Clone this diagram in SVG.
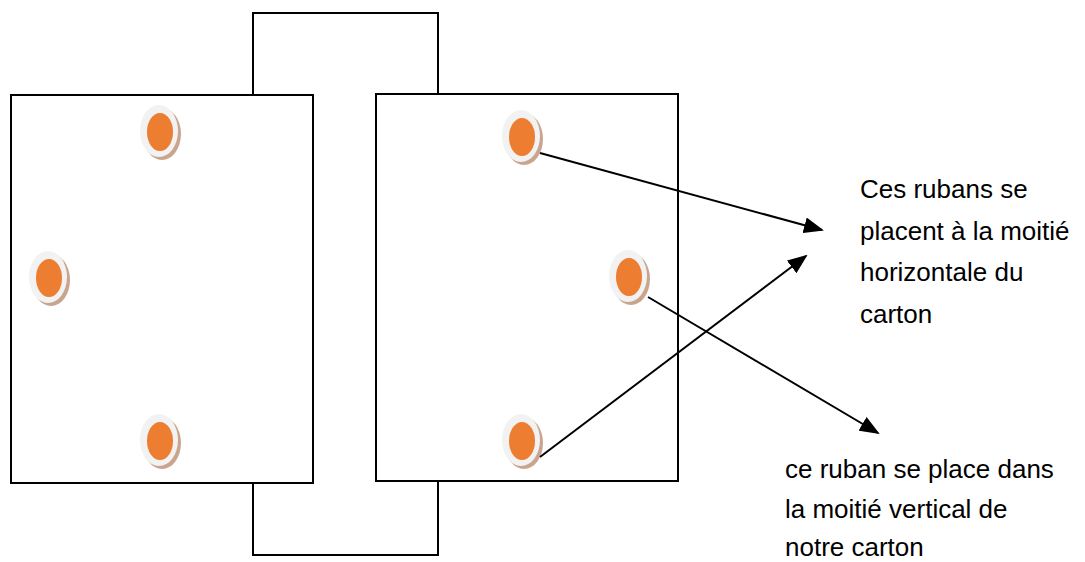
<svg xmlns="http://www.w3.org/2000/svg" width="1085" height="562" viewBox="0 0 1085 562">
<style>
.box{fill:none;stroke:#000;stroke-width:2}
.sh{fill:#c9a58d}
.wh{fill:#f2f2f2}
.or{fill:#ed7d31}
.con{stroke:#000;stroke-width:2;fill:none}
.lbl{font-family:"Liberation Sans",Arial,sans-serif;font-size:26px;fill:#000}
</style>
<defs>
<marker id="ah" markerWidth="10" markerHeight="8" refX="9" refY="4" orient="auto" markerUnits="strokeWidth">
<path d="M0,0 L10,4 L0,8 z" fill="#000"/>
</marker>
<g id="dot">
<ellipse cx="3" cy="3" rx="19" ry="26" class="sh"/>
<ellipse cx="0" cy="0" rx="19" ry="26" class="wh"/>
<ellipse cx="1" cy="1" rx="13" ry="19" class="or"/>
</g>
</defs>
<g id="left-carton">
<rect x="11" y="95" width="302" height="388" class="box"/>
</g>
<g id="right-carton">
<rect x="376" y="94" width="302" height="387" class="box"/>
</g>
<g id="top-ribbon">
<polyline points="253,95 253,13 438,13 438,94" class="box"/>
</g>
<g id="bottom-ribbon">
<polyline points="253,483 253,555 438,555 438,481" class="box"/>
</g>
<g id="dots">
<use href="#dot" x="159" y="131"/>
<use href="#dot" x="48" y="277"/>
<use href="#dot" x="159" y="440"/>
<use href="#dot" x="521" y="136"/>
<use href="#dot" x="628" y="276"/>
<use href="#dot" x="521" y="440"/>
</g>
<g id="connectors">
<line x1="540" y1="153" x2="822" y2="230" class="con" marker-end="url(#ah)"/>
<line x1="540" y1="457" x2="806" y2="256" class="con" marker-end="url(#ah)"/>
<line x1="648" y1="297" x2="878" y2="433" class="con" marker-end="url(#ah)"/>
</g>
<g id="label-horizontal">
<text class="lbl" x="860" y="198">Ces rubans se</text>
<text class="lbl" x="860" y="240">placent à la moitié</text>
<text class="lbl" x="860" y="281">horizontale du</text>
<text class="lbl" x="860" y="323">carton</text>
</g>
<g id="label-vertical">
<text class="lbl" x="785" y="478">ce ruban se place dans</text>
<text class="lbl" x="785" y="518">la moitié vertical de</text>
<text class="lbl" x="785" y="556">notre carton</text>
</g>
</svg>
